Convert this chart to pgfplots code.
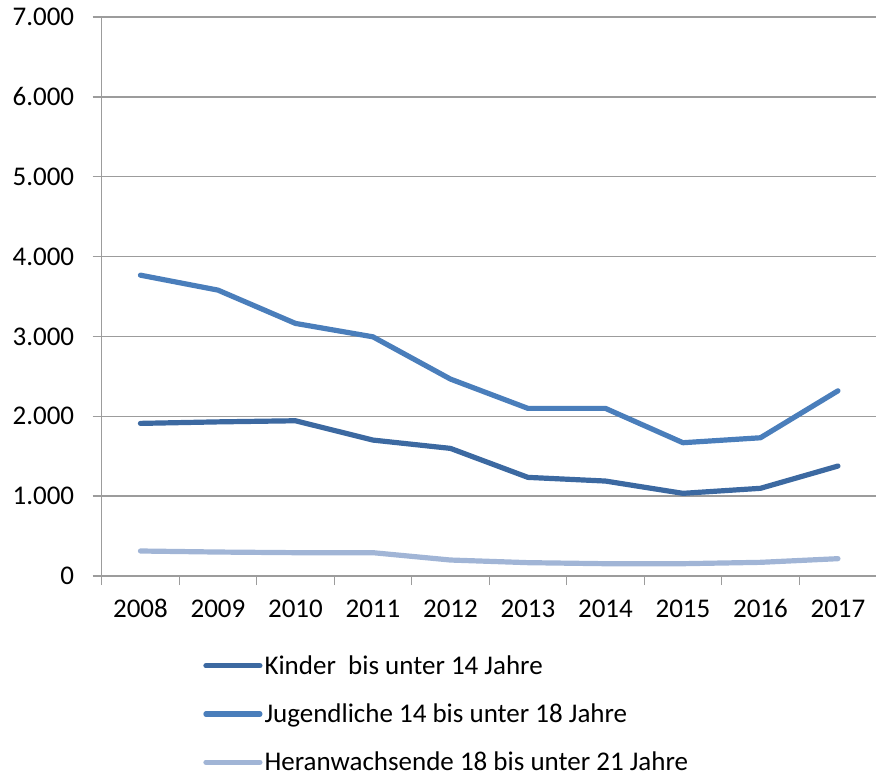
\documentclass[border=0pt]{standalone}
\usepackage{fontspec}
\setmainfont{Carlito}
\usepackage{pgfplots}
\pgfplotsset{compat=1.18}

\definecolor{kinder}{HTML}{3C69A1}
\definecolor{jugend}{HTML}{4A7EBB}
\definecolor{heran}{HTML}{A1B5D6}
\definecolor{gridgray}{HTML}{9C9C9C}

\begin{document}
\begin{tikzpicture}
\path[use as bounding box] (0,0) rectangle (876pt,782pt);
\begin{axis}[
  at={(101.7pt,206pt)}, anchor=south west,
  scale only axis,
  width=775pt, height=559pt,
  xmin=-0.5, xmax=9.5,
  ymin=0, ymax=7000,
  ytick={0,1000,...,7000},
  xtick={0,...,9},
  xticklabels={2008,2009,2010,2011,2012,2013,2014,2015,2016,2017},
  minor xtick={-0.5,0.5,...,9.5},
  major x tick style={draw=none},
  minor tick length=9pt,
  major tick length=9pt,
  tick align=outside,
  ymajorgrids,
  grid style={gridgray, line width=1.3pt},
  axis line style={gridgray, line width=1.3pt},
  tick style={gridgray, line width=1.3pt},
  axis x line*=bottom,
  axis y line*=left,
  font=\fontsize{27}{32}\selectfont,
  /pgf/number format/assume math mode=true,
  /pgf/number format/1000 sep={.},
  yticklabel style={xshift=-15pt},
  xticklabel style={yshift=-11pt},
  legend cell align=left,
  legend style={at={(axis description cs:0.127,-0.135)}, anchor=north west,
    draw=none, fill=none, row sep=24pt,
    font=\fontsize{27}{32}\selectfont},
  legend image code/.code={\draw[#1] (0pt,0pt) -- (54pt,0pt);},
  every axis plot/.append style={line width=5.2pt, line cap=round, line join=round},
]
\addplot[kinder] coordinates {
  (0,1911) (1,1930) (2,1944) (3,1702) (4,1598)
  (5,1235) (6,1189) (7,1035) (8,1098) (9,1377)
};
\addlegendentry{Kinder\ \ bis unter 14 Jahre}
\addplot[jugend] coordinates {
  (0,3767) (1,3580) (2,3163) (3,2995) (4,2466)
  (5,2099) (6,2099) (7,1669) (8,1731) (9,2319)
};
\addlegendentry{Jugendliche 14 bis unter 18 Jahre}
\addplot[heran] coordinates {
  (0,313) (1,300) (2,292) (3,292) (4,200)
  (5,167) (6,154) (7,154) (8,171) (9,217)
};
\addlegendentry{Heranwachsende 18 bis unter 21 Jahre}
\end{axis}
\end{tikzpicture}
\end{document}
